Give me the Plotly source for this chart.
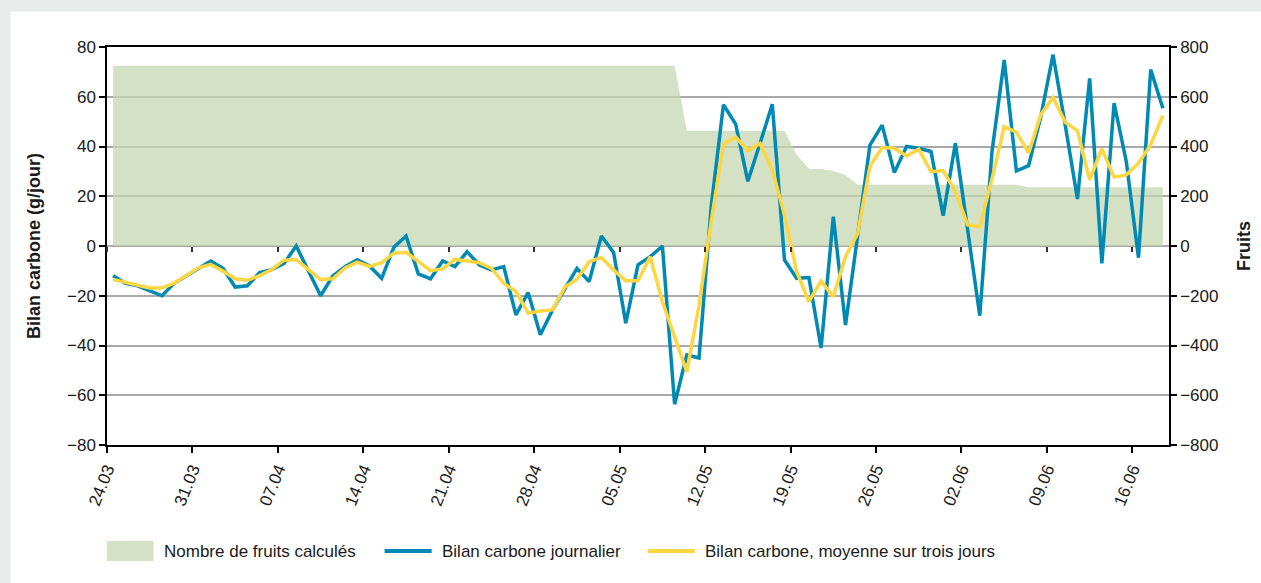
import pandas as pd
import plotly.graph_objects as go

# ---------------- data ----------------
start_day = "2014-03-24"
n_days = 87
axis_start = "2014-03-24"
axis_end = "2014-06-19"

bilan_journalier = [
    -12, -15, -16, -18, -20, -15, -12, -9, -6, -9,
    -16.5, -16, -10.7, -9.5, -7, 0, -10, -20, -12, -8.3,
    -5.5, -8, -13, -0.5, 4, -11.2, -13.2, -6, -8.3, -2.3,
    -7.6, -9.6, -8.3, -27.7, -18.7, -35.7, -25.7, -17.6, -9, -14.3,
    4, -2.6, -31, -7.6, -4.3, 0, -63.6, -43.8, -45, 16,
    56.8, 49, 26, 41.3, 57, -5.6, -13, -12.7, -41, 11.8,
    -31.8, 4.4, 40.6, 48.6, 29.5, 40, 39.3, 38, 12.2, 41.3,
    7, -28, 38, 74.8, 30.2, 32.3, 52, 76.9, 48.6, 18.9,
    67.4, -7, 57.4, 34, -4.7, 70.9, 55.4,
]

bilan_moyenne = [
    -13.5, -14.6, -15.5, -16.9, -16.9, -14.9, -11.9, -8.8, -7.4, -10.1,
    -13.2, -13.8, -11.9, -9.5, -5.7, -5.4, -9.5, -13.5, -13.2, -8.8,
    -6.5, -8.2, -6.7, -2.9, -2.5, -6.3, -9.9, -9.2, -5.4, -6,
    -6.7, -9, -15, -18.3, -27, -26.1, -25.7, -16.6, -13.4, -6.3,
    -4.6, -9.6, -14, -14, -4.3, -22.4, -37, -50.6, -23.8, 10,
    41, 43.8, 38.3, 41.2, 30.6, 12.5, -10.3, -22.4, -14.1, -20.4,
    -4.3, 5.1, 32, 39.6, 39.3, 36.2, 38.9, 29.9, 30.3, 21.9,
    8.5, 7.8, 27, 48, 45.8, 37.3, 52.8, 59.7, 49.7, 46.3,
    26.6, 39, 27.7, 28.6, 33.3, 40.7, 52.5,
]

fruits = [
    725, 725, 725, 725, 725, 725, 725, 725, 725, 725,
    725, 725, 725, 725, 725, 725, 725, 725, 725, 725,
    725, 725, 725, 725, 725, 725, 725, 725, 725, 725,
    725, 725, 725, 725, 725, 725, 725, 725, 725, 725,
    725, 725, 725, 725, 725, 725, 725, 463, 463, 463,
    463, 463, 463, 463, 463, 463, 367, 311, 310, 302,
    285, 246, 246, 246, 246, 246, 246, 246, 246, 246,
    246, 246, 246, 246, 246, 236, 236, 236, 236, 236,
    236, 236, 236, 236, 236, 236, 236,
]

legend_labels = [
    "Nombre de fruits calculés",
    "Bilan carbone journalier",
    "Bilan carbone, moyenne sur trois jours",
]
y_title_left = "Bilan carbone (g/jour)"
y_title_right = "Fruits"

# ---------------- styling ----------------
FONT = "Liberation Sans, Arial, sans-serif"
TXT = "#1a1a1a"
GREEN = "#d4e1c5"
GREEN_FILL = "rgba(198,215,178,0.75)"
BLUE = "#0089b3"
YELLOW = "#fdd642"
GRID = "#a9a9a9"

# days plotted in the middle of each day band
dates = pd.date_range(start_day, periods=n_days, freq="D") + pd.Timedelta(hours=12)

fig = go.Figure()

fig.add_trace(go.Scatter(
    x=dates, y=fruits, xaxis="x", yaxis="y",
    mode="lines", line=dict(width=0, color=GREEN),
    fill="tozeroy", fillcolor=GREEN_FILL,
    name=legend_labels[0], showlegend=False, hoverinfo="skip",
))
fig.add_trace(go.Scatter(
    x=dates, y=bilan_journalier, xaxis="x2", yaxis="y2",
    mode="lines", line=dict(width=3.5, color=BLUE),
    name=legend_labels[1], showlegend=False,
))
fig.add_trace(go.Scatter(
    x=dates, y=bilan_moyenne, xaxis="x2", yaxis="y2",
    mode="lines", line=dict(width=3.5, color=YELLOW),
    name=legend_labels[2], showlegend=False,
))

week_ms = 7 * 86400000
tickfont = dict(family=FONT, size=17, color=TXT)

fig.update_layout(
    width=1261, height=583,
    margin=dict(l=107, r=92, t=47, b=138, autoexpand=False),
    paper_bgcolor="#e9ebea",
    plot_bgcolor="white",
    font=dict(family=FONT, size=17, color=TXT),
    showlegend=False,
    xaxis=dict(
        type="date", range=[axis_start, axis_end],
        tick0=axis_start, dtick=week_ms, tickformat="%d.%m",
        tickangle=-68, tickfont=tickfont,
        ticks="outside", ticklen=6, tickwidth=1.5, tickcolor="black",
        showline=True, linecolor="black", linewidth=1.5, mirror=True,
        showgrid=False, zeroline=False, anchor="y",
    ),
    xaxis2=dict(
        type="date", range=[axis_start, axis_end], overlaying="x",
        tick0=axis_start, dtick=week_ms,
        anchor="free", position=0.5, side="bottom",
        ticks="outside", ticklen=5, tickwidth=1.5, tickcolor="#333333",
        showticklabels=False, showline=False, showgrid=False, zeroline=False,
    ),
    yaxis=dict(
        range=[-800, 800], dtick=200, side="right",
        tickfont=tickfont,
        ticks="outside", ticklen=6, tickwidth=1.5, tickcolor="black",
        showline=True, linecolor="black", linewidth=1.5,
        showgrid=True, gridcolor=GRID, gridwidth=1.5, zeroline=False,
        title=dict(text="<b>" + y_title_right + "</b>", standoff=20,
                   font=dict(family=FONT, size=18, color=TXT)),
        anchor="x",
    ),
    yaxis2=dict(
        range=[-80, 80], dtick=20, side="left", overlaying="y",
        tickfont=tickfont,
        ticks="outside", ticklen=6, tickwidth=1.5, tickcolor="black",
        showline=True, linecolor="black", linewidth=1.5,
        showgrid=False, zeroline=False,
        title=dict(text="<b>" + y_title_left + "</b>", standoff=22,
                   font=dict(family=FONT, size=18, color=TXT)),
        anchor="x",
    ),
)

# white panel over the grey frame (grey band only at top and left)
fig.add_shape(type="rect", xref="paper", yref="paper",
              x0=-0.0907, x1=1.0866, y0=-0.3467, y1=1.0888,
              fillcolor="white", line_width=0, layer="below")

# ---------------- custom legend ----------------
leg_y = -0.2665
fig.add_shape(type="rect", xref="paper", yref="paper",
              x0=0.0, x1=0.0438, y0=-0.2917, y1=-0.2414,
              fillcolor=GREEN, line_width=0)
fig.add_shape(type="line", xref="paper", yref="paper",
              x0=0.2614, x1=0.3057, y0=leg_y, y1=leg_y,
              line=dict(color=BLUE, width=4))
fig.add_shape(type="line", xref="paper", yref="paper",
              x0=0.5091, x1=0.5534, y0=leg_y, y1=leg_y,
              line=dict(color=YELLOW, width=4))
for xp, label in zip([0.0515, 0.3133, 0.5609], legend_labels):
    fig.add_annotation(xref="paper", yref="paper", x=xp, y=leg_y,
                       text=label, showarrow=False, xanchor="left",
                       yanchor="middle", font=dict(family=FONT, size=17, color=TXT))

fig.write_html("out.html", config={"displayModeBar": False},
               post_script="document.body.style.margin='0';")
